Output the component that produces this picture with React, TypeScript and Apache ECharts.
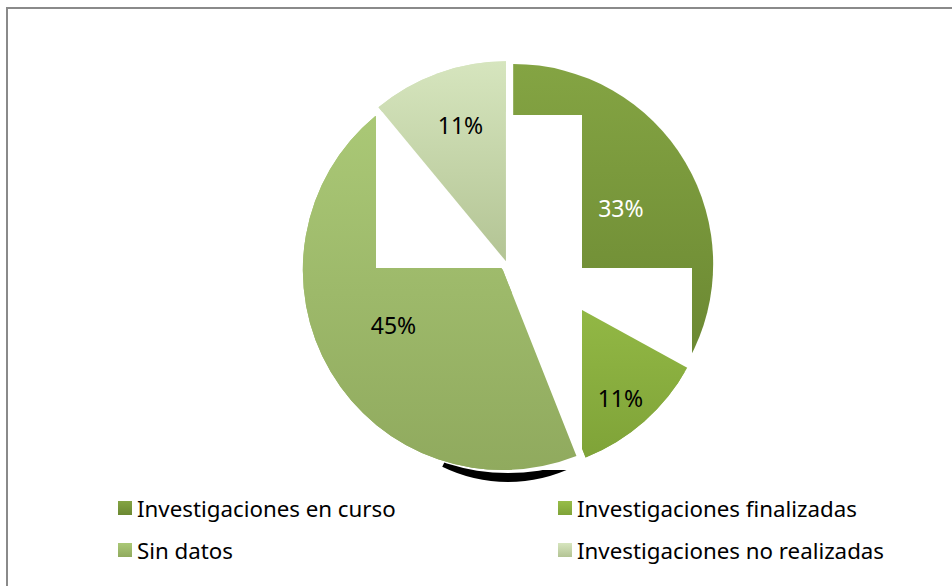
import React, { useEffect, useRef } from 'react';
import * as echarts from 'echarts';

const categories = [
  'Investigaciones en curso',
  'Investigaciones finalizadas',
  'Sin datos',
  'Investigaciones no realizadas',
];
const values = [33, 11, 45, 11];
const labelColors = ['#ffffff', '#000000', '#000000', '#000000'];
const sliceTop = ['#84a443', '#97bd48', '#aac876', '#d6e5be'];
const sliceBottom = ['#6b8832', '#7fa338', '#90aa5e', '#b3c494'];

// label placement tweaks relative to ECharts' inside position
const labelPush = [21, 67, 24, 43];
const labelNudgeX = [1, -4, 0, 4];
const labelNudgeY = [7, -1, -10, 1];

const FONT = '"Noto Sans", "Open Sans", sans-serif';

function grad(i: number) {
  return new echarts.graphic.LinearGradient(0, 0, 0, 1, [
    { offset: 0, color: sliceTop[i] },
    { offset: 1, color: sliceBottom[i] },
  ]);
}

export default function App() {
  const ref = useRef<HTMLDivElement>(null);
  useEffect(() => {
    if (!ref.current) return;
    const chart = echarts.init(ref.current, undefined, { renderer: 'svg' });
    const center = [508, 267];
    const radius = 200;
    const total = values.reduce((a, b) => a + b, 0);
    const mids: number[] = [];
    let acc = 0;
    values.forEach((v) => {
      mids.push(((acc + v / 2) / total) * Math.PI * 2);
      acc += v;
    });

    const makeData = (visible: number | 'all', withLabels: boolean) =>
      categories.map((name, i) => ({
        name,
        value: values[i],
        selected: true,
        itemStyle:
          visible === 'all' || visible === i
            ? { color: grad(i) }
            : { color: 'rgba(0,0,0,0)' },
        label: withLabels ? { show: true, color: labelColors[i] } : { show: false },
      }));

    const pieBase = (z: number, data: any[]) => ({
      type: 'pie',
      z,
      center,
      radius,
      startAngle: 90,
      selectedMode: 'multiple',
      selectedOffset: 6,
      silent: true,
      label: { show: false },
      labelLine: { show: false },
      select: { itemStyle: {} },
      data,
    });

    const topSeries: any = {
      ...pieBase(7, makeData(3, true)),
      label: {
        show: true,
        position: 'inside',
        formatter: '{d}%',
        fontSize: 23,
        fontFamily: FONT,
      },
      labelLayout: (p: any) => {
        const i = p.dataIndex;
        const a = mids[i];
        return {
          dx: labelPush[i] * Math.sin(a) + labelNudgeX[i],
          dy: -labelPush[i] * Math.cos(a) + labelNudgeY[i],
        };
      },
    };

    const legendCommon = {
      orient: 'vertical',
      top: 492,
      itemGap: 20,
      itemWidth: 14,
      itemHeight: 14,
      icon: 'rect',
      selectedMode: false,
      textStyle: { fontSize: 22.3, fontFamily: FONT, color: '#000' },
    };

    const deg = (d: number) => (d * Math.PI) / 180;

    chart.setOption({
      animation: false,
      backgroundColor: '#ffffff',
      legend: [
        { ...legendCommon, left: 113, data: [categories[0], categories[2]] },
        { ...legendCommon, left: 553, data: [categories[1], categories[3]] },
      ],
      graphic: [
        {
          type: 'rect',
          z: 0,
          silent: true,
          shape: { x: 7, y: 8, width: 1000, height: 1000 },
          style: { fill: 'none', stroke: '#8a8a8a', lineWidth: 2 },
        },
        {
          type: 'sector',
          z: 0,
          zlevel: 0,
          silent: true,
          shape: { cx: 508, cy: 332, r: 150, r0: 135, startAngle: deg(64), endAngle: deg(116) },
          style: { fill: '#000000' },
        },
        {
          type: 'sector',
          z: 0.5,
          silent: true,
          shape: { cx: 508, cy: 270, r: 203, r0: 150, startAngle: deg(55), endAngle: deg(125) },
          style: { fill: '#ffffff' },
        },
        {
          type: 'rect',
          z: 2,
          silent: true,
          shape: { x: 581, y: 268, width: 111, height: 104 },
          style: { fill: '#ffffff' },
        },
        {
          type: 'rect',
          z: 4,
          silent: true,
          shape: { x: 512, y: 115, width: 70, height: 355 },
          style: { fill: '#ffffff' },
        },
        {
          type: 'rect',
          z: 6,
          silent: true,
          shape: { x: 376, y: 112, width: 132, height: 156 },
          style: { fill: '#ffffff' },
        },
      ],
      series: [
        pieBase(1, makeData('all', false)),
        pieBase(3, makeData(1, false)),
        pieBase(5, makeData(2, false)),
        topSeries,
      ],
    });
    return () => chart.dispose();
  }, []);
  return (
    <div
      ref={ref}
      style={{ position: 'absolute', left: 0, top: 0, width: 952, height: 586 }}
    />
  );
}
